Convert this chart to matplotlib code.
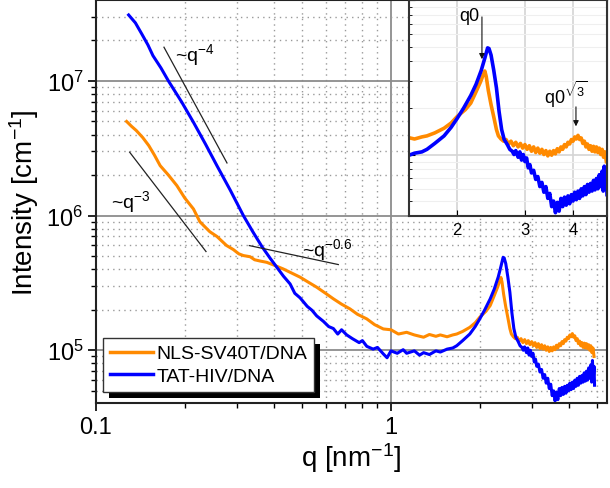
import matplotlib
matplotlib.use("Agg")
import matplotlib.pyplot as plt
import matplotlib.ticker as mticker
from matplotlib.patches import Rectangle
from matplotlib.transforms import IdentityTransform

plt.rcParams['font.family'] = ['Liberation Sans', 'DejaVu Sans']
plt.rcParams['mathtext.fontset'] = 'custom'
plt.rcParams['mathtext.rm'] = 'Liberation Sans'
plt.rcParams['mathtext.it'] = 'Liberation Sans:italic'
plt.rcParams['mathtext.default'] = 'regular'

# --- data ---
q_tat = [0.129, 0.136, 0.143, 0.150, 0.156, 0.166, 0.176, 0.195, 0.214, 0.235,
         0.257, 0.285, 0.316, 0.340, 0.365, 0.390, 0.410, 0.432, 0.455, 0.472,
         0.492, 0.52, 0.54, 0.56, 0.59, 0.615, 0.638, 0.66, 0.68, 0.708,
         0.74, 0.78, 0.80, 0.828, 0.87, 0.90, 0.942, 0.97, 1.0, 1.05,
         1.1, 1.13, 1.2, 1.25, 1.29, 1.35, 1.42, 1.47, 1.55, 1.62,
         1.67, 1.75, 1.85, 1.93, 2.00, 2.08, 2.17, 2.24, 2.31, 2.36,
         2.40, 2.42, 2.45, 2.49, 2.53, 2.57, 2.61, 2.65, 2.70, 2.74,
         2.78, 2.81, 2.84, 2.88, 2.91, 2.94, 2.97, 3.00, 3.03, 3.06,
         3.09, 3.12, 3.16, 3.20, 3.24, 3.28, 3.32, 3.36, 3.40, 3.44,
         3.48, 3.52, 3.56, 3.60, 3.64, 3.68, 3.72, 3.76, 3.80, 3.84,
         3.88, 3.92, 3.96, 4.00, 4.04, 4.08, 4.12, 4.16, 4.20, 4.24,
         4.28, 4.32, 4.36, 4.40, 4.44, 4.48, 4.52, 4.56, 4.60, 4.64,
         4.68, 4.72, 4.76, 4.79, 4.82, 4.85, 4.88, 4.90]
i_tat = [3.09e7, 2.7e7, 2.23e7, 1.85e7, 1.54e7, 1.25e7, 1.0e7, 7.0e6, 4.93e6, 3.4e6,
         2.35e6, 1.55e6, 1.0e6, 7.6e5, 5.9e5, 4.8e5, 4.14e5, 3.55e5, 3.11e5, 2.65e5,
         2.45e5, 2.12e5, 1.98e5, 1.8e5, 1.64e5, 1.5e5, 1.45e5, 1.32e5, 1.42e5, 1.3e5,
         1.22e5, 1.14e5, 1.18e5, 1.07e5, 1.02e5, 1.05e5, 9.4e4, 8.8e4, 9.9e4, 9.5e4,
         1.01e5, 9.5e4, 9.9e4, 9.2e4, 9.6e4, 9.3e4, 9.9e4, 9.7e4, 1.02e5, 1.04e5,
         1.08e5, 1.18e5, 1.32e5, 1.5e5, 1.71e5, 2.0e5, 2.41e5, 2.85e5, 3.5e5, 4.2e5,
         4.9e5, 4.85e5, 4.4e5, 3.5e5, 2.7e5, 1.9e5, 1.45e5, 1.25e5, 1.16e5, 1.08e5,
         1.05e5, 1.0e5, 1.06e5, 9.6e4, 1.04e5, 9.2e4, 1.0e5, 9.0e4, 9.5e4, 8.2e4,
         8.6e4, 7.6e4, 7.9e4, 6.9e4, 7.2e4, 6.2e4, 6.6e4, 5.7e4, 6.2e4, 5.2e4,
         5.6e4, 4.6e4, 5.0e4, 4.2e4, 4.9e4, 4.3e4, 5.2e4, 4.6e4, 5.3e4, 4.7e4,
         5.4e4, 4.8e4, 5.5e4, 5.0e4, 5.7e4, 5.1e4, 5.8e4, 5.2e4, 6.0e4, 5.4e4,
         6.2e4, 5.5e4, 6.4e4, 5.7e4, 6.5e4, 5.8e4, 6.8e4, 5.9e4, 7.0e4, 6.0e4,
         7.4e4, 6.2e4, 7.8e4, 5.8e4, 8.4e4, 6.0e4, 7.6e4, 5.5e4]

q_nls = [0.127, 0.132, 0.137, 0.144, 0.151, 0.158, 0.165, 0.176, 0.188, 0.200,
         0.214, 0.225, 0.243, 0.257, 0.277, 0.292, 0.305, 0.316, 0.333, 0.345,
         0.36, 0.379, 0.40, 0.431, 0.46, 0.492, 0.525, 0.56, 0.60, 0.638,
         0.68, 0.726, 0.77, 0.828, 0.88, 0.942, 1.0, 1.06, 1.13, 1.2,
         1.29, 1.35, 1.42, 1.47, 1.55, 1.62, 1.67, 1.75, 1.85, 1.93,
         2.0, 2.1, 2.17, 2.24, 2.30, 2.34, 2.36, 2.38, 2.41, 2.45,
         2.49, 2.53, 2.56, 2.60, 2.64, 2.68, 2.72, 2.76, 2.80, 2.84,
         2.88, 2.92, 2.96, 3.00, 3.04, 3.08, 3.12, 3.16, 3.20, 3.24,
         3.28, 3.32, 3.36, 3.40, 3.44, 3.48, 3.52, 3.56, 3.60, 3.64,
         3.68, 3.72, 3.76, 3.80, 3.84, 3.88, 3.92, 3.96, 4.00, 4.04,
         4.08, 4.12, 4.16, 4.20, 4.24, 4.28, 4.32, 4.36, 4.40, 4.44,
         4.48, 4.52, 4.56, 4.60, 4.64, 4.68, 4.72, 4.76, 4.80, 4.84, 4.88]
i_nls = [5.0e6, 4.6e6, 4.28e6, 3.8e6, 3.31e6, 2.8e6, 2.35e6, 2.0e6, 1.67e6, 1.35e6,
         1.12e6, 9.0e5, 7.6e5, 7.0e5, 6.0e5, 5.6e5, 5.2e5, 5.05e5, 4.95e5, 4.7e5,
         4.6e5, 4.5e5, 4.3e5, 4.02e5, 3.75e5, 3.49e5, 3.2e5, 2.94e5, 2.65e5, 2.41e5,
         2.2e5, 2.03e5, 1.85e5, 1.71e5, 1.55e5, 1.44e5, 1.42e5, 1.32e5, 1.36e5, 1.3e5,
         1.25e5, 1.31e5, 1.27e5, 1.3e5, 1.26e5, 1.3e5, 1.32e5, 1.38e5, 1.48e5, 1.6e5,
         1.76e5, 1.95e5, 2.15e5, 2.55e5, 2.95e5, 3.3e5, 3.47e5, 3.2e5, 2.6e5, 2.1e5,
         1.75e5, 1.45e5, 1.32e5, 1.26e5, 1.22e5, 1.25e5, 1.17e5, 1.22e5, 1.14e5, 1.2e5,
         1.12e5, 1.18e5, 1.1e5, 1.16e5, 1.08e5, 1.14e5, 1.05e5, 1.12e5, 1.03e5, 1.1e5,
         1.02e5, 1.08e5, 1.0e5, 1.06e5, 9.8e4, 1.05e5, 9.9e4, 1.06e5, 1.01e5, 1.09e5,
         1.04e5, 1.12e5, 1.08e5, 1.16e5, 1.12e5, 1.2e5, 1.17e5, 1.25e5, 1.22e5, 1.3e5,
         1.26e5, 1.33e5, 1.25e5, 1.28e5, 1.18e5, 1.22e5, 1.12e5, 1.17e5, 1.08e5, 1.14e5,
         1.05e5, 1.13e5, 1.04e5, 1.12e5, 1.03e5, 1.1e5, 1.0e5, 1.08e5, 9.6e4, 1.04e5, 9.0e4]

# power-law guide lines: (q_start, q_end), (I_start, I_end)
guide_q4 = ([0.170, 0.278], [1.78e7, 2.46e6])
guide_q3 = ([0.130, 0.236], [2.96e6, 5.41e5])
guide_q06 = ([0.331, 0.663], [5.99e5, 4.33e5])

orange = '#ff8a00'
blue = '#0000ff'

fig = plt.figure(figsize=(6.1, 4.89), dpi=100)
ax = fig.add_axes([96 / 610, 1 - 404 / 489, 511 / 610, 403 / 489])

ax.plot(q_nls, i_nls, color=orange, lw=2.2, label='NLS-SV40T/DNA')
ax.plot(q_tat, i_tat, color=blue, lw=2.2, label='TAT-HIV/DNA')

for gq, gi in (guide_q4, guide_q3, guide_q06):
    ax.plot(gq, gi, color='#222222', lw=0.9)

ax.text(0.186, 1.58e7, r'~q$^{-4}$', fontsize=14, va='center', ha='left')
ax.text(0.112, 1.29e6, r'~q$^{-3}$', fontsize=14, va='center', ha='left')
ax.text(0.500, 5.66e5, r'~q$^{-0.6}$', fontsize=14, va='center', ha='left')

ax.set_xscale('log')
ax.set_yscale('log')
ax.set_xlim(0.1, 5.4)
ax.set_ylim(4.06e4, 3.99e7)

ax.xaxis.set_major_formatter(mticker.FuncFormatter(lambda v, p: '%g' % v))
ax.xaxis.set_minor_formatter(mticker.NullFormatter())
ax.yaxis.set_minor_formatter(mticker.NullFormatter())
ax.yaxis.set_minor_locator(mticker.LogLocator(base=10, subs=range(2, 10), numticks=20))

ax.grid(True, which='major', color='#8c8c8c', lw=1.3, ls='-')
ax.grid(True, which='minor', color='#9a9a9a', lw=1.0, ls=(0, (1, 3)))
ax.set_axisbelow(True)

ax.tick_params(which='major', direction='out', length=6, width=1.2, labelsize=17, pad=3)
ax.tick_params(which='minor', direction='out', length=3.5, width=1.0)
for sp in ax.spines.values():
    sp.set_color('#222222')
    sp.set_linewidth(1.5)

ax.set_xlabel(r'q [nm$^{-1}$]', fontsize=20, labelpad=2)
ax.set_ylabel(r'Intensity [cm$^{-1}$]', fontsize=20, labelpad=4)

leg = ax.legend(loc='upper left', bbox_to_anchor=(103 / 610, 1 - 339 / 489),
                bbox_transform=fig.transFigure, borderaxespad=0, fontsize=14,
                fancybox=False, framealpha=1, edgecolor='#333333',
                handlelength=2.2, handletextpad=0.2, labelspacing=0.25,
                borderpad=0.35)
leg.get_frame().set_linewidth(1.0)
for ln in leg.get_lines():
    ln.set_linewidth(2.5)

# inset
axi = fig.add_axes([409 / 610, 1 - 217 / 489, 198 / 610, 216 / 489])
axi.plot(q_nls, i_nls, color=orange, lw=2.6)
axi.plot(q_tat, i_tat, color=blue, lw=2.6)
axi.set_xscale('log')
axi.set_yscale('log')
axi.set_xlim(1.5, 4.9)
axi.set_ylim(4e4, 1e6)
axi.xaxis.set_major_locator(mticker.FixedLocator([2, 3, 4]))
axi.xaxis.set_major_formatter(mticker.FixedFormatter(['2', '3', '4']))
axi.xaxis.set_minor_formatter(mticker.NullFormatter())
axi.yaxis.set_major_formatter(mticker.NullFormatter())
axi.yaxis.set_minor_formatter(mticker.NullFormatter())
axi.yaxis.set_minor_locator(mticker.LogLocator(base=10, subs=range(2, 10), numticks=20))
axi.tick_params(which='both', direction='in', labelsize=12, pad=4)
axi.tick_params(which='major', length=4)
axi.tick_params(which='minor', length=2.5)
axi.grid(True, which='major', color='#d4d4d4', lw=1.2)
axi.grid(True, which='minor', color='#efefef', lw=0.8)
axi.set_axisbelow(True)
for sp in axi.spines.values():
    sp.set_color('#333333')
    sp.set_linewidth(1.5)

axi.annotate('', xy=(2.32, 3.97e5), xytext=(2.32, 8.1e5),
             arrowprops=dict(arrowstyle='-|>', color='#111111', lw=0.8, mutation_scale=8))
axi.text(2.29, 7.9e5, 'q0', fontsize=13, ha='right', va='center')
axi.annotate('', xy=(4.07, 1.46e5), xytext=(4.07, 2.12e5),
             arrowprops=dict(arrowstyle='-|>', color='#111111', lw=0.8, mutation_scale=8))
axi.text(3.83, 2.47e5, r'q0$^{\sqrt{3}}$', fontsize=13, ha='center', va='center')

# black drop shadow behind the legend
fig.canvas.draw()
bb = leg.get_window_extent()
ax.add_artist(Rectangle((bb.x0 + 6, bb.y0 - 6), bb.width, bb.height,
                        transform=IdentityTransform(), facecolor='black',
                        edgecolor='none', zorder=4.9, clip_on=False))

fig.savefig('out.png', dpi=100)
